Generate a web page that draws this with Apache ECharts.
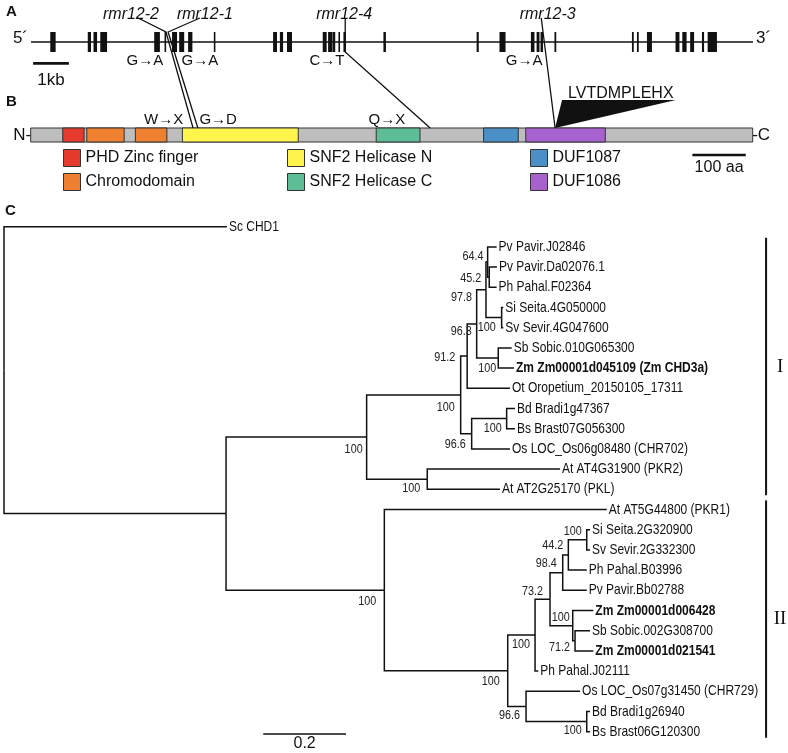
<!DOCTYPE html>
<html><head><meta charset="utf-8">
<script src="https://cdn.jsdelivr.net/npm/echarts@6/dist/echarts.min.js"></script>
<style>html,body{margin:0;padding:0;background:#fff}#c{width:788px;height:753px}</style>
</head><body><div id="c"></div>
<script>
// ================= DATA =================
// ---- Panel A: gene structure (positions in kb) ----
const geneLengthKb = 20.22;
const exonStartKb = [0.54,1.59,1.75,1.94,3.45,3.74,3.95,4.15,4.40,5.12,6.78,6.97,7.17,8.17,8.32,8.44,8.61,8.75,9.87,12.48,13.12,14.00,14.16,14.27,14.66,16.83,16.97,17.25,18.05,18.24,18.46,18.79,18.95];
const exonEndKb   = [0.69,1.68,1.85,2.13,3.61,3.78,4.09,4.29,4.52,5.15,6.89,7.06,7.31,8.28,8.43,8.52,8.65,8.82,9.94,12.54,13.29,14.10,14.24,14.34,14.71,16.88,17.02,17.39,18.16,18.36,18.57,18.85,19.21];
const geneScaleKb = 1;
const mutationNames   = ['rmr12-2','rmr12-1','rmr12-4','rmr12-3'];
const mutationGeneKb  = [3.78, 3.84, 8.80, 14.41];
const baseChanges     = ['G\u2192A','G\u2192A','C\u2192T','G\u2192A'];
// ---- Panel B: protein (positions in aa) ----
const proteinLengthAa = 1352;
const domainNames   = ['PHD Zinc finger','Chromodomain','SNF2 Helicase N','SNF2 Helicase C','DUF1087','DUF1086'];
const domainStartAa = [[60],[105,196],[284],[647],[848],[927]];
const domainEndAa   = [[100],[175,255],[501],[729],[913],[1076]];
const mutationAa    = [304, 313, 748, 982];
const aaChanges     = ['W\u2192X','G\u2192D','Q\u2192X'];
const insertSeq     = 'LVTDMPLEHX';
const insertWedgeAa = [995, 1208];
const proteinScaleAa = 100;
// ---- Panel C: phylogeny  [node, parent, branch length, bootstrap] ----
const treeNodes = [
 ['root','',0,''],
 ['Sc CHD1','root',0.539,''],
 ['n1','root',0.537,''],
 ['nI','n1',0.340,'100'],
 ['nCore','nI',0.2274,'100'],
 ['n91','nCore',0.0157,'91.2'],
 ['n96a','n91',0.023,'96.3'],
 ['n97','n96a',0.0225,'97.8'],
 ['n64','n97',0.004,'64.4'],
 ['Pv Pavir.J02846','n64',0.0217,''],
 ['n45','n64',0.0039,'45.2'],
 ['Pv Pavir.Da02076.1','n45',0.0186,''],
 ['Ph Pahal.F02364','n45',0.0178,''],
 ['nSiSv1','n97',0.0379,'100'],
 ['Si Seita.4G050000','nSiSv1',0.004,''],
 ['Sv Sevir.4G047600','nSiSv1',0.004,''],
 ['nSbZm1','n96a',0.0522,'100'],
 ['Sb Sobic.010G065300','nSbZm1',0.0324,''],
 ['Zm Zm00001d045109 (Zm CHD3a)','nSbZm1',0.038,''],
 ['Ot Oropetium_20150105_17311','n91',0.1035,''],
 ['n96b','nCore',0.0266,'96.6'],
 ['nBdBs1','n96b',0.0846,'100'],
 ['Bd Bradi1g47367','nBdBs1',0.0201,''],
 ['Bs Brast07G056300','nBdBs1',0.0201,''],
 ['Os LOC_Os06g08480 (CHR702)','n96b',0.0926,''],
 ['nPK','nI',0.1466,'100'],
 ['At AT4G31900 (PKR2)','nPK',0.3209,''],
 ['At AT2G25170 (PKL)','nPK',0.1758,''],
 ['nII','n1',0.3828,'100'],
 ['At AT5G44800 (PKR1)','nII',0.5379,''],
 ['nGr','nII',0.2984,'100'],
 ['nPan','nGr',0.0661,'100'],
 ['n73','nPan',0.0362,'73.2'],
 ['n98','n73',0.0307,'98.4'],
 ['n44','n98',0.0136,'44.2'],
 ['nSiSv2','n44',0.0445,'100'],
 ['Si Seita.2G320900','nSiSv2',0.008,''],
 ['Sv Sevir.2G332300','nSiSv2',0.008,''],
 ['Ph Pahal.B03996','n44',0.0445,''],
 ['Pv Pavir.Bb02788','n98',0.0581,''],
 ['nZm','n73',0.0549,'100'],
 ['Zm Zm00001d006428','nZm',0.0499,''],
 ['n71','nZm',0.0056,'71.2'],
 ['Sb Sobic.002G308700','n71',0.0363,''],
 ['Zm Zm00001d021541','n71',0.0443,''],
 ['Ph Pahal.J02111','nPan',0.0079,''],
 ['n96c','nGr',0.0443,'96.6'],
 ['Os LOC_Os07g31450 (CHR729)','n96c',0.1306,''],
 ['nBdBs2','n96c',0.1468,'100'],
 ['Bd Bradi1g26940','nBdBs2',0.008,''],
 ['Bs Brast06G120300','nBdBs2',0.008,'']
];
const boldLeaves = ['Zm Zm00001d045109 (Zm CHD3a)','Zm Zm00001d006428','Zm Zm00001d021541'];
const cladeNames = ['I','II'];
const cladeFirstLeaf = ['Pv Pavir.J02846','At AT5G44800 (PKR1)'];
const cladeLastLeaf  = ['At AT2G25170 (PKL)','Bs Brast06G120300'];
const treeScale = 0.2;

// ================= STYLE / LAYOUT =================
const FONT = '"Liberation Sans", Arial, Helvetica, sans-serif';
const SERIF = '"Liberation Serif", "Times New Roman", serif';
const NARROW_SCALE = 0.8;   // condensed look of the tree labels
const INK = '#111';
const domainColors = ['#E53A2C','#EE8030','#FFF44C','#5CBD96','#4A90C6','#A862D0'];
// label anchor positions (layout, in each panel's axis units)
const mutationNameKb = [2.80, 4.87, 8.77, 14.47];
const mutationLeaderKb = [3.0, 4.73, 8.80, 14.29];
const leaderThroughGene = [false, false, true, true];
const baseChangeKb = [3.19, 4.73, 8.29, 13.81];
const aaChangeAa = [249, 351, 667];
const insertLabelAa = 1105;
const supportOffsetPx = {
 n64:[-4,-6], n45:[-8,1], n97:[-14,7], nSiSv1:[-6,10], n96a:[-5,7], nSbZm1:[-2,10],
 n91:[-12,1], nCore:[-6,12], nBdBs1:[-5,10], n96b:[-6,11], nI:[-4,12], nPK:[-7,9],
 nII:[-8,11], nGr:[-8,10], nPan:[-5,9], n73:[-7,-8], n98:[-6,-9], n44:[-5,-10],
 nSiSv2:[-5,-9], nZm:[-3,-8], n71:[-5,6], n96c:[-6,9], nBdBs2:[-5,9]
};

function font(size, family, weight, style) {
  return [style || 'normal', weight || 'normal', size + 'px', family || FONT].join(' ');
}
function txt(x, y, text, size, o) {
  o = o || {};
  return { type: 'text', x: x, y: y, silent: true, scaleX: o.scaleX || 1,
    style: { text: text, fill: o.fill || INK, font: font(size, o.family, o.weight, o.style),
             align: o.align || 'center', verticalAlign: o.va || 'middle' } };
}
function seg(p1, p2, w) {
  return { type: 'line', shape: { x1: p1[0], y1: p1[1], x2: p2[0], y2: p2[1] },
           style: { stroke: INK, lineWidth: w || 1.3 } };
}

// ---- tree layout (leaf order from data, depth from branch lengths) ----
const nodes = {};
treeNodes.forEach(function (r) { nodes[r[0]] = { id: r[0], parent: r[1], len: r[2], sup: r[3], children: [] }; });
treeNodes.forEach(function (r) { if (r[1]) nodes[r[1]].children.push(nodes[r[0]]); });
let leafCount = 0;
(function layout(n, d) {
  n.depth = d;
  if (!n.children.length) { n.y = leafCount++; }
  else {
    n.children.forEach(function (c) { layout(c, d + c.len); });
    n.y = (n.children[0].y + n.children[n.children.length - 1].y) / 2;
  }
})(nodes.root, 0);
const allNodes = treeNodes.map(function (r) { return nodes[r[0]]; });
const branchData = allNodes.filter(function (n) { return n.parent; })
  .map(function (n) { return [nodes[n.parent].depth, n.depth, n.y, nodes[n.parent].y]; });
const leafNodes = allNodes.filter(function (n) { return !n.children.length; });
const supportNodes = allNodes.filter(function (n) { return n.sup; });

// ================= OPTION =================
const gridA = 0, gridB = 1, gridC = 2;
const option = {
  animation: false,
  backgroundColor: '#fff',
  title: [
    { text: 'A', left: 6, top: 4, padding: 0, textStyle: { fontSize: 15, fontWeight: 'bold', fontFamily: FONT, color: INK } },
    { text: 'B', left: 6, top: 94, padding: 0, textStyle: { fontSize: 15, fontWeight: 'bold', fontFamily: FONT, color: INK } },
    { text: 'C', left: 5, top: 203, padding: 0, textStyle: { fontSize: 15, fontWeight: 'bold', fontFamily: FONT, color: INK } }
  ],
  legend: [
    [0, 1, 63], [2, 3, 287], [4, 5, 530]
  ].map(function (c) {
    return { data: [domainNames[c[0]], domainNames[c[1]]], orient: 'vertical', left: c[2], top: 149,
      padding: 0, itemWidth: 17, itemHeight: 17, itemGap: 6, icon: 'rect', selectedMode: false,
      itemStyle: { borderColor: '#333', borderWidth: 1 },
      textStyle: { fontSize: 16, fontFamily: FONT, color: INK, lineHeight: 17 } };
  }),
  grid: [
    { left: 31, top: 12, width: 722, height: 60 },
    { left: 30.7, top: 121, width: 722, height: 28 },
    { left: 4, top: 226.7, width: 1.86 * 413.5, height: 505 }
  ],
  xAxis: [
    { gridIndex: gridA, type: 'value', min: 0, max: geneLengthKb, show: false },
    { gridIndex: gridB, type: 'value', min: 0, max: proteinLengthAa, show: false },
    { gridIndex: gridC, type: 'value', min: 0, max: 1.86, show: false }
  ],
  yAxis: [
    { gridIndex: gridA, type: 'value', min: -1.5, max: 1.5, show: false },
    { gridIndex: gridB, type: 'value', min: -1, max: 1, show: false },
    { gridIndex: gridC, type: 'value', min: 0, max: leafCount - 1, inverse: true, show: false }
  ],
  series: []
};
function custom(axis, data, renderItem, extra) {
  return Object.assign({ type: 'custom', xAxisIndex: axis, yAxisIndex: axis, clip: false, silent: true,
    data: data, renderItem: renderItem }, extra || {});
}
const S = option.series;

// --- Panel A ---
S.push(custom(gridA, [[0, geneLengthKb]], function (p, api) {
  const a = api.coord([api.value(0), 0]), b = api.coord([api.value(1), 0]);
  const t = api.coord([0, 0.2]);
  return { type: 'group', children: [
    seg(a, b, 1.3),
    txt(a[0] - 3, t[1], '5\u00B4', 17, { align: 'right' }),
    txt(b[0] + 3, t[1], '3\u00B4', 17, { align: 'left' })
  ] };
}));
S.push(custom(gridA, exonStartKb.map(function (s, i) { return [s, exonEndKb[i]]; }), function (p, api) {
  const a = api.coord([api.value(0), 0.5]), b = api.coord([api.value(1), -0.5]);
  const w = Math.max(1.6, b[0] - a[0]);
  return { type: 'rect', shape: { x: a[0], y: a[1], width: w, height: b[1] - a[1] }, style: { fill: INK } };
}));
S.push(custom(gridA, mutationNames.map(function (m, i) { return [mutationNameKb[i], baseChangeKb[i], i]; }), function (p, api) {
  const i = api.value(2);
  const n = api.coord([api.value(0), 1.35]), c = api.coord([api.value(1), -0.95]);
  return { type: 'group', children: [
    txt(n[0], n[1], mutationNames[i], 16, { style: 'italic' }),
    txt(c[0], c[1], baseChanges[i], 15)
  ] };
}));
S.push(custom(gridA, [[0.06, 0.06 + geneScaleKb]], function (p, api) {
  const a = api.coord([api.value(0), -1.07]), b = api.coord([api.value(1), -1.07]);
  const t = api.coord([(api.value(0) + api.value(1)) / 2, -1.9]);
  return { type: 'group', children: [seg(a, b, 2.6), txt(t[0], t[1], geneScaleKb + 'kb', 17)] };
}));

// --- Panel B ---
S.push(custom(gridB, [[0, proteinLengthAa]], function (p, api) {
  const a = api.coord([api.value(0), 0.5]), b = api.coord([api.value(1), -0.5]);
  const m = api.coord([0, 0]);
  return { type: 'group', children: [
    { type: 'rect', shape: { x: a[0], y: a[1], width: b[0] - a[0], height: b[1] - a[1] },
      style: { fill: '#BEBEBE', stroke: '#333', lineWidth: 1 } },
    txt(a[0] + 0.5, m[1], 'N-', 17, { align: 'right' }),
    txt(b[0] - 0.5, m[1], '-C', 17, { align: 'left' })
  ] };
}));
domainNames.forEach(function (name, k) {
  S.push(custom(gridB, domainStartAa[k].map(function (s, j) { return [s, domainEndAa[k][j]]; }), function (p, api) {
    const a = api.coord([api.value(0), 0.5]), b = api.coord([api.value(1), -0.5]);
    return { type: 'rect', shape: { x: a[0], y: a[1], width: b[0] - a[0], height: b[1] - a[1] },
      style: { fill: api.visual('color'), stroke: '#333', lineWidth: 1 } };
  }, { name: name, itemStyle: { color: domainColors[k], borderColor: '#333', borderWidth: 1 } }));
});
S.push(custom(gridB, aaChanges.map(function (t, i) { return [aaChangeAa[i], i]; }), function (p, api) {
  const c = api.coord([api.value(0), 1.07]);
  return txt(c[0], c[1], aaChanges[api.value(1)], 15);
}));
S.push(custom(gridB, [[insertWedgeAa[0], insertWedgeAa[1], mutationAa[3], insertLabelAa]], function (p, api) {
  const l = api.coord([api.value(0), 2.5]), r = api.coord([api.value(1), 2.5]), tip = api.coord([api.value(2), 0.5]);
  const t = api.coord([api.value(3), 2.93]);
  return { type: 'group', children: [
    { type: 'polygon', shape: { points: [l, r, tip] }, style: { fill: INK } },
    txt(t[0], t[1], insertSeq, 16)
  ] };
}));
S.push(custom(gridB, [[1239, 1239 + proteinScaleAa]], function (p, api) {
  const a = api.coord([api.value(0), -1.43]), b = api.coord([api.value(1), -1.43]);
  const t = api.coord([(api.value(0) + api.value(1)) / 2, -2.36]);
  return { type: 'group', children: [seg(a, b, 2.6), txt(t[0], t[1], proteinScaleAa + ' aa', 16)] };
}));

// --- Panel C ---
S.push(custom(gridC, branchData, function (p, api) {
  const a = api.coord([api.value(0), api.value(3)]);
  const b = api.coord([api.value(0), api.value(2)]);
  const c = api.coord([api.value(1), api.value(2)]);
  return { type: 'polyline', shape: { points: [a, b, c] }, style: { stroke: INK, lineWidth: 1.5, fill: null } };
}, { encode: { x: [0, 1], y: [2, 3] } }));
S.push(custom(gridC, leafNodes.map(function (n, i) { return [n.depth, n.y, i]; }), function (p, api) {
  const n = leafNodes[api.value(2)];
  const c = api.coord([api.value(0), api.value(1)]);
  return txt(c[0] + 2, c[1], n.id, 15, { align: 'left', scaleX: NARROW_SCALE,
    weight: boldLeaves.indexOf(n.id) >= 0 ? 'bold' : 'normal' });
}));
S.push(custom(gridC, supportNodes.map(function (n, i) { return [n.depth, n.y, i]; }), function (p, api) {
  const n = supportNodes[api.value(2)];
  const c = api.coord([api.value(0), api.value(1)]);
  const o = supportOffsetPx[n.id] || [-5, 9];
  return txt(c[0] + o[0], c[1] + o[1], n.sup, 13.5, { align: 'right', scaleX: NARROW_SCALE, fill: '#222' });
}));
const cladeBarX = 1.843;
S.push(custom(gridC, cladeNames.map(function (c, i) {
  return [cladeBarX, nodes[cladeFirstLeaf[i]].y - 0.45, nodes[cladeLastLeaf[i]].y + 0.3, i];
}), function (p, api) {
  const a = api.coord([api.value(0), api.value(1)]), b = api.coord([api.value(0), api.value(2)]);
  return { type: 'group', children: [
    seg(a, b, 2),
    txt(a[0] + 14, (a[1] + b[1]) / 2, cladeNames[api.value(3)], 19, { family: SERIF })
  ] };
}));
S.push(custom(gridC, [[0.627, 0.627 + treeScale]], function (p, api) {
  const a = api.coord([api.value(0), 25.11]), b = api.coord([api.value(1), 25.11]);
  return { type: 'group', children: [seg(a, b, 1.5), txt((a[0] + b[0]) / 2, a[1] + 2, String(treeScale), 16, { va: 'top' })] };
}));

const chart = echarts.init(document.getElementById('c'), null, { renderer: 'canvas' });
chart.setOption(option);

// --- mutation links (gene -> protein), protein end converted through panel B's axes ---
const proteinPx = mutationAa.map(function (a) { return chart.convertToPixel({ gridIndex: gridB }, [a, 0.5]); });
S.push(custom(gridA, mutationNames.map(function (m, i) { return [mutationLeaderKb[i], mutationGeneKb[i], i]; }), function (p, api) {
  const i = api.value(2);
  const top = api.coord([api.value(0), 1.2]);
  const g = api.coord([api.value(1), leaderThroughGene[i] ? -0.5 : 0.5]);
  return { type: 'polyline', shape: { points: [top, g, proteinPx[i]] }, style: { stroke: INK, lineWidth: 1.3, fill: null } };
}, { z: 5 }));
chart.setOption(option, true);
</script></body></html>
